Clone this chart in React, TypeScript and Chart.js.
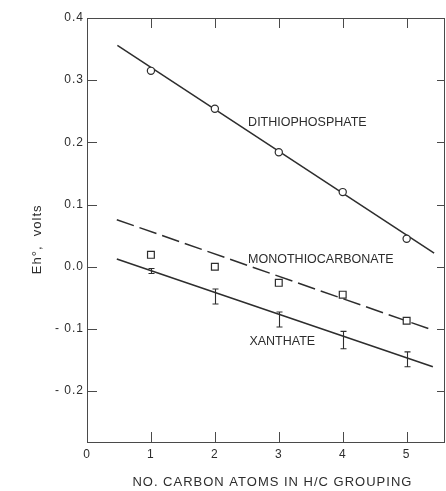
import React, { useEffect, useRef } from "react";
import { Chart, registerables } from "chart.js";

Chart.register(...registerables);

// ---- data ----
const carbonAtoms = [1, 2, 3, 4, 5];
const dithiophosphate = [0.315, 0.254, 0.184, 0.12, 0.045];
const monothiocarbonate = [0.019, 0.0, -0.026, -0.045, -0.087];
const xanthate = [-0.007, -0.048, -0.085, -0.118, -0.149];
const xanthateError = [0.004, 0.012, 0.012, 0.014, 0.012];

// fitted straight lines (end points)
const dithioFitX = [0.475, 5.43];
const dithioFitY = [0.356, 0.022];
const monoFitX = [0.466, 5.38];
const monoFitY = [0.0756, -0.101];
const xanthFitX = [0.466, 5.41];
const xanthFitY = [0.0124, -0.161];

const xTickValues = [0, 1, 2, 3, 4, 5];
const xTickLabels = ["0", "1", "2", "3", "4", "5"];
const yTickValues = [-0.2, -0.1, 0, 0.1, 0.2, 0.3, 0.4];
const yTickLabels = ["- 0.2", "- 0.1", "0.0", "0.1", "0.2", "0.3", "0.4"];
const seriesLabels = ["DITHIOPHOSPHATE", "MONOTHIOCARBONATE", "XANTHATE"];
const xTitle = "NO. CARBON ATOMS IN H/C GROUPING";
const yTitle = "Eh°,  volts";

const INK = "#2d2d2d";
const FONT = "'Liberation Sans', Arial, sans-serif";

const pts = (xs: number[], ys: number[]) => xs.map((x, i) => ({ x, y: ys[i] }));

const decorPlugin = {
  id: "decor",
  beforeDraw(chart: any) {
    const ctx = chart.ctx;
    ctx.save();
    ctx.fillStyle = "#ffffff";
    ctx.fillRect(0, 0, chart.width, chart.height);
    ctx.restore();
    ctx.letterSpacing = "1px";
  },
  afterDatasetsDraw(chart: any) {
    const ctx = chart.ctx;
    const xs = chart.scales.x;
    const ys = chart.scales.y;
    // error bars for xanthate
    ctx.save();
    ctx.strokeStyle = INK;
    ctx.lineWidth = 1.1;
    carbonAtoms.forEach((c, i) => {
      const px = Math.round(xs.getPixelForValue(c)) + 0.5;
      const yt = ys.getPixelForValue(xanthate[i] + xanthateError[i]);
      const yb = ys.getPixelForValue(xanthate[i] - xanthateError[i]);
      ctx.beginPath();
      ctx.moveTo(px, yt);
      ctx.lineTo(px, yb);
      ctx.moveTo(px - 3, yt);
      ctx.lineTo(px + 3, yt);
      ctx.moveTo(px - 3, yb);
      ctx.lineTo(px + 3, yb);
      ctx.stroke();
    });
    ctx.restore();
  },
  afterDraw(chart: any) {
    const ctx = chart.ctx;
    const { left, right, top, bottom } = chart.chartArea;
    const xs = chart.scales.x;
    const ys = chart.scales.y;
    ctx.save();
    ctx.strokeStyle = "#4a4a4a";
    ctx.lineWidth = 1;
    // frame
    ctx.strokeRect(left + 0.5, top + 0.5, right - left - 1, bottom - top);
    // inward ticks
    ctx.beginPath();
    xTickValues.forEach((v) => {
      if (v === 0) return;
      const px = Math.round(xs.getPixelForValue(v)) + 0.5;
      ctx.moveTo(px, bottom);
      ctx.lineTo(px, bottom - 10);
      ctx.moveTo(px, top);
      ctx.lineTo(px, top + 10);
    });
    yTickValues.forEach((v) => {
      if (v === 0.4) return;
      const py = Math.round(ys.getPixelForValue(v)) + 0.5;
      ctx.moveTo(left, py);
      ctx.lineTo(left + 10, py);
      ctx.moveTo(right, py);
      ctx.lineTo(right - 8, py);
    });
    ctx.stroke();

    // series labels
    ctx.fillStyle = INK;
    ctx.font = `12.5px ${FONT}`;
    ctx.letterSpacing = "0px";
    ctx.textAlign = "left";
    ctx.textBaseline = "middle";
    const labelPos = [
      [2.52, 0.232],
      [2.52, 0.012],
      [2.54, -0.12],
    ];
    seriesLabels.forEach((t, i) => {
      ctx.fillText(t, xs.getPixelForValue(labelPos[i][0]), ys.getPixelForValue(labelPos[i][1]));
    });

    // axis titles
    ctx.font = `13px ${FONT}`;
    ctx.letterSpacing = "1px";
    ctx.textAlign = "center";
    ctx.fillText(xTitle, xs.getPixelForValue(2.9), bottom + 40);

    ctx.save();
    ctx.translate(left - 50, ys.getPixelForValue(0.044));
    ctx.rotate(-Math.PI / 2);
    ctx.fillText(yTitle, 0, 0);
    ctx.restore();

    ctx.restore();
    ctx.letterSpacing = "0px";
  },
};

export default function App() {
  const ref = useRef<HTMLCanvasElement | null>(null);

  useEffect(() => {
    if (!ref.current) return;
    const chart = new Chart(ref.current, {
      type: "scatter",
      data: {
        datasets: [
          {
            label: seriesLabels[0],
            data: pts(carbonAtoms, dithiophosphate),
            pointStyle: "circle",
            pointRadius: 3.6,
            pointBorderWidth: 1.2,
            pointBorderColor: INK,
            pointBackgroundColor: "#ffffff",
            showLine: false,
          },
          {
            label: seriesLabels[1],
            data: pts(carbonAtoms, monothiocarbonate),
            pointStyle: "rect",
            pointRadius: 4.8,
            pointBorderWidth: 1.2,
            pointBorderColor: INK,
            pointBackgroundColor: "#ffffff",
            showLine: false,
          },
          {
            label: seriesLabels[2],
            data: pts(carbonAtoms, xanthate),
            pointRadius: 0,
            showLine: false,
          },
          {
            label: "dithio fit",
            data: pts(dithioFitX, dithioFitY),
            showLine: true,
            pointRadius: 0,
            borderColor: INK,
            borderWidth: 1.5,
          },
          {
            label: "mono fit",
            data: pts(monoFitX, monoFitY),
            showLine: true,
            pointRadius: 0,
            borderColor: INK,
            borderWidth: 1.5,
            borderDash: [18, 6],
          },
          {
            label: "xanth fit",
            data: pts(xanthFitX, xanthFitY),
            showLine: true,
            pointRadius: 0,
            borderColor: INK,
            borderWidth: 1.5,
          },
        ],
      },
      options: {
        animation: false,
        responsive: false,
        devicePixelRatio: 1,
        layout: { autoPadding: false, padding: { top: 18, right: 1, left: 0, bottom: 0 } },
        plugins: {
          legend: { display: false },
          tooltip: { enabled: false },
          title: { display: false },
        },
        scales: {
          x: {
            type: "linear",
            position: "bottom",
            min: 0,
            max: 5.6,
            grid: { display: false, drawTicks: false },
            border: { display: false },
            afterBuildTicks: (s: any) => {
              s.ticks = xTickValues.map((v) => ({ value: v }));
            },
            afterFit: (s: any) => {
              s.height = 49;
              s.paddingLeft = 0;
              s.paddingRight = 0;
            },
            ticks: {
              padding: 5,
              color: INK,
              font: { family: FONT, size: 12 },
              maxRotation: 0,
              autoSkip: false,
              callback: (v: any) => {
                const i = xTickValues.indexOf(Number(v));
                return i >= 0 ? xTickLabels[i] : "";
              },
            },
          },
          y: {
            type: "linear",
            position: "left",
            min: -0.282,
            max: 0.4,
            grid: { display: false, drawTicks: false },
            border: { display: false },
            afterBuildTicks: (s: any) => {
              s.ticks = yTickValues.map((v) => ({ value: v }));
            },
            afterFit: (s: any) => {
              s.width = 87;
              s.paddingTop = 0;
              s.paddingBottom = 0;
            },
            ticks: {
              padding: 3,
              color: INK,
              font: { family: FONT, size: 12 },
              autoSkip: false,
              callback: (v: any) => {
                const i = yTickValues.findIndex((t) => Math.abs(t - Number(v)) < 1e-9);
                return i >= 0 ? yTickLabels[i] : "";
              },
            },
          },
        },
      },
      plugins: [decorPlugin],
    } as any);
    return () => chart.destroy();
  }, []);

  return (
    <div style={{ position: "absolute", left: 0, top: 0, width: 446, height: 491 }}>
      <canvas ref={ref} width={446} height={491} style={{ display: "block" }} />
    </div>
  );
}
